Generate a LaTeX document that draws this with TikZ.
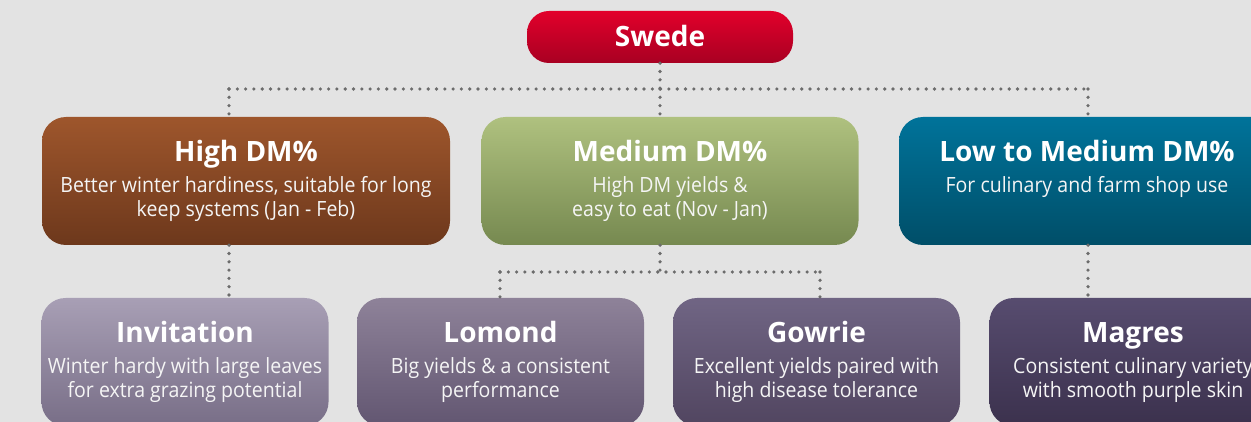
\documentclass[tikz,border=0pt]{standalone}
\usepackage{fontspec}
\setmainfont{Open Sans}
\newfontfamily\bodyfamily[FakeStretch=0.93]{Open Sans}
\usetikzlibrary{positioning}

\definecolor{bggray}{HTML}{E3E3E3}
\definecolor{dotgray}{HTML}{6C6C6C}
\definecolor{swedeT}{HTML}{E2002B}
\definecolor{swedeB}{HTML}{A80022}
\definecolor{brownT}{HTML}{9E562C}
\definecolor{brownB}{HTML}{6D381C}
\definecolor{greenT}{HTML}{AFC17F}
\definecolor{greenB}{HTML}{768950}
\definecolor{tealT}{HTML}{00739A}
\definecolor{tealB}{HTML}{004E68}
\definecolor{invT}{HTML}{A89FB5}
\definecolor{invB}{HTML}{786E87}
\definecolor{lomT}{HTML}{8E8299}
\definecolor{lomB}{HTML}{625671}
\definecolor{gowT}{HTML}{706584}
\definecolor{gowB}{HTML}{514560}
\definecolor{magT}{HTML}{574C6F}
\definecolor{magB}{HTML}{3B314D}

\newcommand{\titlesize}{\fontsize{28}{30}\selectfont\bfseries}
\newcommand{\bodysize}{\bodyfamily\fontsize{21}{23.5}\selectfont}

\tikzset{
  box/.style={rounded corners=24pt, inner sep=0pt},
  toprow/.style={box, minimum height=128pt},
  btmrow/.style={box, minimum height=128pt, minimum width=287pt},
  boxtitle/.style={anchor=base, text=white, inner sep=0pt, font=\titlesize},
  boxbody/.style={anchor=base, text=white!96!black, inner sep=0pt, align=center, font=\bodysize},
  link/.style={draw=dotgray, line width=3.6pt, line cap=round, dash pattern=on 0pt off 8.3pt}
}

\begin{document}
\begin{tikzpicture}[x=1pt, y=-1pt]
  \fill[bggray] (0,0) rectangle (1251,422);
  \useasboundingbox (0,0) rectangle (1251,422);
  \clip (0,0) rectangle (1251,422);

  % root
  \node[box, rounded corners=22pt, minimum width=266pt, minimum height=52pt,
        top color=swedeT, bottom color=swedeB] (swede) at (660,37) {};
  \node[boxtitle] (swede-title) at ([yshift=-10pt]swede.center) {Swede};

  % dry matter groups
  \node[toprow, minimum width=408pt, top color=brownT, bottom color=brownB] (high) at (246,181) {};
  \node[toprow, minimum width=377pt, top color=greenT, bottom color=greenB] (medium) at (670,181) {};
  \node[toprow, minimum width=376pt, top color=tealT, bottom color=tealB] (low) at (1087,181) {};

  \node[boxtitle] (high-title) at ([yshift=-45pt]high.north) {High DM\%};
  \node[boxbody] (high-body) at ([yshift=-54.5pt]high-title.base)
    {Better winter hardiness, suitable for long\\keep systems (Jan - Feb)};
  \node[boxtitle] (medium-title) at ([yshift=-45pt]medium.north) {Medium DM\%};
  \node[boxbody] (medium-body) at ([yshift=-54.5pt]medium-title.base)
    {High DM yields \&\\easy to eat (Nov - Jan)};
  \node[boxtitle] (low-title) at ([yshift=-45pt]low.north) {Low to Medium DM\%};
  \node[boxbody] (low-body) at ([yshift=-31pt]low-title.base)
    {For culinary and farm shop use};

  % varieties
  \node[btmrow, top color=invT, bottom color=invB] (invitation) at (185,362) {};
  \node[btmrow, top color=lomT, bottom color=lomB] (lomond) at (500.5,362) {};
  \node[btmrow, top color=gowT, bottom color=gowB] (gowrie) at (816.5,362) {};
  \node[btmrow, top color=magT, bottom color=magB] (magres) at (1133,362) {};

  \node[boxtitle] (invitation-title) at ([yshift=-45pt]invitation.north) {Invitation};
  \node[boxbody] (invitation-body) at ([yshift=-54.5pt]invitation-title.base)
    {Winter hardy with large leaves\\for extra grazing potential};
  \node[boxtitle] (lomond-title) at ([yshift=-45pt]lomond.north) {Lomond};
  \node[boxbody] (lomond-body) at ([yshift=-54.5pt]lomond-title.base)
    {Big yields \& a consistent\\performance};
  \node[boxtitle] (gowrie-title) at ([yshift=-45pt]gowrie.north) {Gowrie};
  \node[boxbody] (gowrie-body) at ([yshift=-54.5pt]gowrie-title.base)
    {Excellent yields paired with\\high disease tolerance};
  \node[boxtitle] (magres-title) at ([yshift=-45pt]magres.north) {Magres};
  \node[boxbody] (magres-body) at ([yshift=-54.5pt]magres-title.base)
    {Consistent culinary variety\\with smooth purple skin};

  % dotted links
  \coordinate (busL) at (229,89);
  \coordinate (busM) at (660,89);
  \coordinate (busR) at (1088,89);
  \coordinate (subL) at (500,272);
  \coordinate (subM) at (660,272);
  \coordinate (subR) at (820,272);

  \draw[link] (swede.south) -- (busM);
  \draw[link] (busL) -- (busR);
  \draw[link] (busL) -- (busL |- high.north);
  \draw[link] (busM) -- (busM |- medium.north);
  \draw[link] (busR) -- (busR |- low.north);
  \draw[link] (busL |- high.south) -- (busL |- invitation.north);
  \draw[link] (subM |- medium.south) -- (subM);
  \draw[link] (subL) -- (subR);
  \draw[link] (subL) -- (subL |- lomond.north);
  \draw[link] (subR) -- (subR |- gowrie.north);
  \draw[link] (busR |- low.south) -- (busR |- magres.north);
\end{tikzpicture}
\end{document}
